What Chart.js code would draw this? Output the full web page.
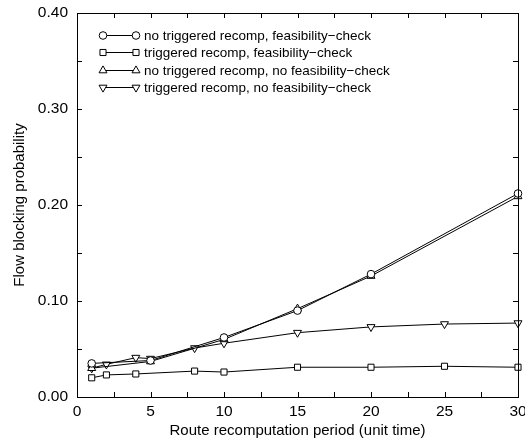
<!DOCTYPE html>
<html><head><meta charset="utf-8">
<script src="https://cdn.jsdelivr.net/npm/chart.js@4/dist/chart.umd.min.js"></script>
<style>html,body{margin:0;padding:0;background:#fff}#wrap{width:525px;height:442px}</style>
</head><body><div id="wrap"><canvas id="c" width="525" height="442"></canvas></div>
<script>
const seriesNames = [
  "no triggered recomp, feasibility\u2212check",
  "triggered recomp, feasibility\u2212check",
  "no triggered recomp, no feasibility\u2212check",
  "triggered recomp, no feasibility\u2212check"
];
const xNoTrig = [1, 5, 10, 15, 20, 30];
const yNoTrigFeas = [0.035, 0.038, 0.062, 0.090, 0.128, 0.212];
const yNoTrigNoFeas = [0.030, 0.037, 0.060, 0.092, 0.126, 0.209];
const xTrigFeas = [1, 2, 4, 8, 10, 15, 20, 25, 30];
const yTrigFeas = [0.020, 0.023, 0.024, 0.027, 0.026, 0.031, 0.031, 0.032, 0.031];
const xTrigNoFeas = [1, 2, 4, 5, 8, 10, 15, 20, 25, 30];
const yTrigNoFeas = [0.030, 0.034, 0.041, 0.040, 0.051, 0.056, 0.067, 0.073, 0.076, 0.077];
const xTicks = [0, 5, 10, 15, 20, 25, 30];
const yTicks = [0.00, 0.10, 0.20, 0.30, 0.40];

const FONT = "'Liberation Sans', Arial, Helvetica, sans-serif";
function pts(xs, ys){ return xs.map((x,i)=>({x:x, y:ys[i]})); }
const styles = [
  {pointStyle:'circle', radius:3.8, rotation:0},
  {pointStyle:'rect', radius:4.3, rotation:0},
  {pointStyle:'triangle', radius:4.6, rotation:0},
  {pointStyle:'triangle', radius:4.6, rotation:180}
];
const dataArr = [pts(xNoTrig,yNoTrigFeas), pts(xTrigFeas,yTrigFeas), pts(xNoTrig,yNoTrigNoFeas), pts(xTrigNoFeas,yTrigNoFeas)];
const datasets = dataArr.map((d,i)=>({
  label: seriesNames[i], data: d, showLine:true, borderColor:'#000', borderWidth:1,
  backgroundColor:'#fff', pointBackgroundColor:'#fff', pointBorderColor:'#000', pointBorderWidth:1,
  pointStyle: styles[i].pointStyle, pointRadius: styles[i].radius, pointRotation: styles[i].rotation,
  pointHoverRadius: styles[i].radius, tension:0, clip:false
}));

function drawMarker(ctx, st, x, y){
  ctx.save();
  ctx.translate(x,y);
  ctx.rotate(st.rotation*Math.PI/180);
  ctx.beginPath();
  const r = st.radius;
  if (st.pointStyle==='circle'){ ctx.arc(0,0,r,0,Math.PI*2); }
  else if (st.pointStyle==='rect'){ const s=Math.SQRT1_2*r; ctx.rect(-s,-s,2*s,2*s); }
  else { ctx.moveTo(0,-r); ctx.lineTo(r*Math.sin(Math.PI*2/3), -r*Math.cos(Math.PI*2/3)); ctx.lineTo(-r*Math.sin(Math.PI*2/3), -r*Math.cos(Math.PI*2/3)); ctx.closePath(); }
  ctx.fillStyle='#fff'; ctx.fill();
  ctx.strokeStyle='#000'; ctx.lineWidth=1; ctx.stroke();
  ctx.restore();
}

const framePlugin = {
  id:'frame',
  afterDatasetsDraw(chart){
    const ctx = chart.ctx, a = chart.chartArea, xs = chart.scales.x, ys = chart.scales.y;
    ctx.save();
    ctx.strokeStyle='#000'; ctx.lineWidth=1;
    ctx.strokeRect(Math.round(a.left)+0.5, Math.round(a.top)+0.5, Math.round(a.right-a.left), Math.round(a.bottom-a.top));
    ctx.beginPath();
    for (let v=0; v<=30.001; v+=2.5){
      const px = Math.round(xs.getPixelForValue(v))+0.5;
      ctx.moveTo(px, a.bottom); ctx.lineTo(px, a.bottom-5);
      ctx.moveTo(px, a.top); ctx.lineTo(px, a.top+5);
    }
    for (let v=0; v<=0.4001; v+=0.05){
      const py = Math.round(ys.getPixelForValue(v))+0.5;
      ctx.moveTo(a.left, py); ctx.lineTo(a.left+5, py);
      ctx.moveTo(a.right, py); ctx.lineTo(a.right-5, py);
    }
    ctx.stroke();
    // legend
    const ly0 = 35, dy = 17.3, x1 = 103, x2 = 136, tx = 144;
    ctx.font = "13.5px " + FONT;
    ctx.textBaseline='middle'; ctx.textAlign='left'; ctx.fillStyle='#000';
    seriesNames.forEach((name,i)=>{
      const y = Math.round(ly0 + i*dy)+0.5;
      ctx.beginPath(); ctx.moveTo(x1,y); ctx.lineTo(x2,y); ctx.stroke();
      drawMarker(ctx, styles[i], x1, y);
      drawMarker(ctx, styles[i], x2, y);
      ctx.fillText(name, tx, y+0.5);
    });
    ctx.restore();
  }
};

new Chart(document.getElementById('c'), {
  type:'scatter',
  data:{datasets},
  options:{
    responsive:false, animation:false, devicePixelRatio:1,
    layout:{padding:{top:13, right:7, left:0, bottom:0}},
    plugins:{legend:{display:false}, tooltip:{enabled:false}},
    scales:{
      x:{type:'linear', min:0, max:30,
        afterBuildTicks(s){ s.ticks = xTicks.map(v=>({value:v})); },
        afterFit(s){ s.height = 45; s.paddingLeft = 0; s.paddingRight = 0; },
        grid:{display:false, drawTicks:false}, border:{display:false},
        ticks:{color:'#000', font:{family:FONT, size:15.5}, padding:5, maxRotation:0, autoSkip:false, callback:v=>String(v)},
        title:{display:true, text:'Route recomputation period (unit time)', color:'#000', font:{family:FONT, size:15}, padding:{top:0,bottom:2}}
      },
      y:{type:'linear', min:0, max:0.4,
        afterBuildTicks(s){ s.ticks = yTicks.map(v=>({value:v})); },
        afterFit(s){ s.width = 77; s.paddingTop = 0; s.paddingBottom = 0; },
        grid:{display:false, drawTicks:false}, border:{display:false},
        ticks:{color:'#000', font:{family:FONT, size:15.5}, padding:9, autoSkip:false, callback:v=>Number(v).toFixed(2)},
        title:{display:true, text:'Flow blocking probability', color:'#000', font:{family:FONT, size:15}, padding:{top:11,bottom:4}}
      }
    }
  },
  plugins:[framePlugin]
});
</script></body></html>
